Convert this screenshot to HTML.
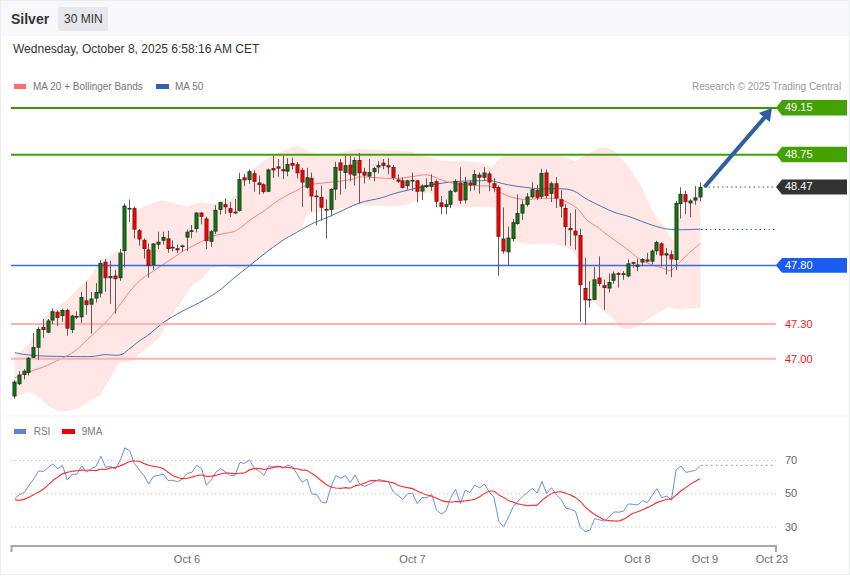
<!DOCTYPE html>
<html><head><meta charset="utf-8"><style>
*{margin:0;padding:0;box-sizing:border-box}
html,body{width:850px;height:576px;overflow:hidden;background:#fff;font-family:"Liberation Sans",sans-serif}
#frame{position:absolute;left:0;top:0;width:850px;height:575px;border:1px solid #e9edf0;}
#hdr{position:absolute;left:0;top:0;width:850px;height:36px;background:#f8f7f9}
.t{position:absolute;white-space:nowrap;line-height:1}
svg{position:absolute;left:0;top:0}
svg text{font-family:"Liberation Sans",sans-serif}
</style></head><body>
<div id="hdr"></div>
<div class="t" style="left:11px;top:12px;font-size:14px;font-weight:bold;color:#333">Silver</div>
<div style="position:absolute;left:58px;top:7px;width:50px;height:24px;background:#e6e8eb;border-radius:2px"></div>
<div class="t" style="left:64px;top:13px;font-size:12px;color:#333">30 MIN</div>
<div class="t" style="left:13px;top:43px;font-size:12px;color:#333">Wednesday, October 8, 2025 6:58:16 AM CET</div>
<div style="position:absolute;left:14px;top:84px;width:12px;height:5px;background:#ff6e6e"></div>
<div class="t" style="left:33px;top:82px;font-size:10px;color:#777">MA 20 + Bollinger Bands</div>
<div style="position:absolute;left:156px;top:84px;width:13px;height:5px;background:#2f62b0"></div>
<div class="t" style="left:175px;top:82px;font-size:10px;color:#777">MA 50</div>
<div class="t" style="left:692px;top:82px;font-size:10px;color:#999">Research © 2025 Trading Central</div>
<div style="position:absolute;left:14px;top:429px;width:12px;height:5px;background:#5b82e8"></div>
<div class="t" style="left:33.7px;top:427px;font-size:10px;color:#7a7a7a">RSI</div>
<div style="position:absolute;left:62px;top:429px;width:13px;height:5px;background:#f00000"></div>
<div class="t" style="left:81.8px;top:427px;font-size:10px;color:#7a7a7a">9MA</div>
<svg width="850" height="576" viewBox="0 0 850 576">
<path d="M14.8,354.7 L22.2,350.0 L29.2,343.0 L36.1,330.6 L43.0,319.4 L50.0,311.0 L58.3,307.0 L66.7,300.0 L75.0,291.7 L83.3,283.3 L90.0,276.9 L98.7,263.0 L107.4,257.8 L116.0,252.0 L122.6,250.0 L127.5,230.3 L132.3,219.3 L138.4,209.6 L144.5,206.6 L152.1,203.4 L160.8,200.8 L169.5,201.7 L178.2,204.3 L186.9,206.5 L193.8,204.3 L200.7,202.0 L207.7,203.4 L214.6,203.4 L221.6,200.8 L230.3,200.0 L237.0,194.0 L243.0,178.0 L253.0,169.0 L264.7,160.4 L275.2,154.3 L283.8,150.8 L290.8,147.4 L296.9,145.3 L303.0,148.2 L309.9,152.2 L320.0,154.0 L334.2,154.0 L348.1,150.8 L358.5,149.1 L377.4,150.0 L394.7,150.5 L412.1,151.7 L422.5,155.2 L429.5,156.9 L436.4,159.5 L443.4,160.4 L453.8,161.3 L464.2,160.9 L474.6,162.1 L485.0,163.9 L492.0,166.5 L497.2,161.3 L500.4,157.8 L507.4,154.3 L524.7,154.7 L542.1,154.3 L559.5,155.2 L566.4,157.8 L575.1,161.3 L583.8,156.0 L594.2,150.8 L600.0,147.8 L607.0,147.8 L613.9,150.4 L620.8,157.4 L627.8,166.0 L634.7,176.5 L641.7,186.9 L648.6,202.5 L655.6,216.4 L664.3,226.9 L671.7,238.9 L674.4,241.0 L677.9,219.4 L682.8,212.5 L689.7,201.4 L696.7,190.3 L700.4,182.6 L700.4,308.2 L692.1,308.2 L682.4,309.4 L673.9,309.0 L667.8,307.0 L658.0,313.0 L648.3,319.1 L638.6,325.2 L631.3,328.8 L621.6,328.8 L613.7,319.1 L604.0,311.8 L594.2,302.0 L587.0,290.0 L579.7,263.2 L574.8,253.5 L567.5,247.4 L552.9,243.8 L528.6,244.2 L511.6,241.3 L505.0,238.0 L499.0,215.0 L494.6,207.3 L481.6,207.0 L464.2,207.0 L446.9,206.5 L437.0,206.0 L433.6,194.5 L428.3,192.4 L423.0,193.5 L417.7,199.3 L410.3,203.5 L401.8,206.2 L385.9,206.2 L370.0,205.7 L358.9,205.7 L349.3,207.2 L337.7,208.8 L330.3,210.4 L321.8,211.5 L313.3,213.0 L307.0,214.7 L304.0,222.0 L300.6,231.0 L297.7,230.0 L287.3,236.9 L275.1,245.6 L263.0,256.0 L250.8,265.6 L240.4,269.0 L224.7,266.4 L210.8,268.2 L200.4,280.3 L196.0,282.6 L190.8,287.0 L182.1,300.8 L173.4,313.0 L164.7,326.9 L159.5,337.3 L150.8,345.1 L140.4,353.0 L132.0,361.0 L126.8,362.5 L119.9,361.7 L114.6,370.4 L107.7,382.5 L100.7,394.7 L90.3,400.8 L81.6,406.9 L73.0,410.3 L62.5,411.2 L55.6,410.0 L48.6,406.0 L41.7,399.9 L34.7,393.8 L27.8,391.6 L20.8,394.7 L14.8,397.8 Z" fill="#ffe7e6"/>
<path d="M14.8,352.7 C16.7,353.0 21.2,354.1 26.0,354.7 C30.8,355.2 36.1,355.7 43.4,356.0 C50.6,356.3 61.4,356.4 69.5,356.5 C77.6,356.6 86.2,356.8 92.0,356.5 C97.8,356.2 99.5,354.9 104.2,354.7 C108.9,354.4 115.9,355.9 119.9,355.0 C124.0,354.1 125.2,351.9 128.5,349.5 C131.8,347.1 136.8,342.8 140.0,340.5 C143.2,338.2 143.3,338.7 147.4,335.6 C151.5,332.5 158.9,325.8 164.7,321.7 C170.5,317.6 176.3,314.5 182.1,311.3 C187.9,308.1 193.7,305.8 199.5,302.6 C205.3,299.4 211.2,296.2 216.9,292.2 C222.6,288.2 227.8,283.2 233.4,278.6 C239.1,274.0 245.0,269.3 250.8,264.7 C256.6,260.1 262.4,255.2 268.2,250.8 C274.0,246.5 281.3,241.3 285.5,238.6 C289.7,235.8 288.9,236.7 293.2,234.3 C297.5,231.9 304.7,227.4 311.2,224.2 C317.7,221.0 324.4,218.7 332.4,215.2 C340.3,211.7 351.0,206.0 358.9,203.2 C366.8,200.4 374.0,199.8 380.0,198.2 C386.0,196.6 389.3,194.9 394.7,193.4 C400.1,191.9 406.3,190.5 412.1,189.1 C417.9,187.7 423.7,186.3 429.5,185.2 C435.3,184.1 441.1,183.2 446.9,182.5 C452.7,181.8 458.4,181.5 464.2,181.2 C470.0,180.9 477.3,180.8 481.6,180.7 C485.9,180.6 485.7,179.7 490.0,180.4 C494.3,181.1 501.6,183.5 507.4,184.7 C513.2,185.8 518.9,186.6 524.7,187.3 C530.5,188.0 536.3,188.8 542.1,189.0 C547.9,189.2 554.3,188.4 559.5,188.7 C564.7,189.0 568.8,189.0 573.4,190.8 C578.0,192.6 582.7,196.9 587.3,199.5 C591.9,202.1 596.6,204.2 601.2,206.4 C605.8,208.6 610.2,210.8 615.0,212.5 C619.8,214.2 623.8,214.8 630.0,216.9 C636.2,219.0 645.2,223.0 652.1,225.1 C659.0,227.2 663.1,228.8 671.2,229.5 C679.3,230.2 695.7,229.2 700.6,229.2" fill="none" stroke="#3664ae" stroke-width="0.9"/>
<path d="M14.8,377.8 C16.7,377.0 21.2,374.8 26.0,373.0 C30.8,371.2 37.6,369.2 43.4,366.9 C49.2,364.6 55.6,361.6 60.8,359.0 C66.0,356.4 70.3,354.5 74.7,351.3 C79.1,348.1 83.1,343.5 86.9,340.0 C90.7,336.5 93.3,334.3 97.3,330.4 C101.3,326.5 106.8,321.4 110.8,316.8 C114.8,312.2 117.8,307.5 121.3,302.9 C124.8,298.3 128.2,293.1 131.7,289.0 C135.2,284.9 138.6,281.5 142.1,278.6 C145.6,275.7 149.0,274.0 152.5,271.7 C156.0,269.4 159.4,267.0 162.9,264.7 C166.4,262.4 169.8,260.1 173.3,257.8 C176.8,255.5 178.7,253.7 183.8,250.8 C188.9,247.9 198.5,243.0 203.9,240.4 C209.3,237.8 211.1,236.6 216.0,235.2 C220.9,233.8 229.1,233.1 233.4,231.7 C237.8,230.2 239.2,228.5 242.1,226.5 C245.0,224.5 247.3,222.0 250.8,219.5 C254.3,217.0 258.6,214.7 263.0,211.7 C267.4,208.7 272.6,204.2 276.9,201.3 C281.2,198.4 285.5,196.2 289.0,194.3 C292.5,192.4 294.7,191.5 297.7,190.0 C300.7,188.5 301.9,186.4 306.9,185.2 C311.9,183.9 321.7,183.2 327.7,182.5 C333.7,181.8 338.7,181.4 343.0,180.8 C347.3,180.2 350.6,179.8 353.4,179.1 C356.2,178.4 356.0,177.1 360.0,176.9 C364.0,176.7 371.6,177.5 377.4,177.8 C383.2,178.1 388.9,178.8 394.7,178.6 C400.5,178.4 406.9,177.2 412.1,176.6 C417.3,176.0 421.9,174.6 426.0,174.8 C430.1,175.0 432.9,176.6 436.4,177.8 C439.9,179.0 443.4,180.8 446.9,181.8 C450.4,182.8 453.8,183.2 457.3,183.8 C460.8,184.4 463.6,184.8 467.7,185.2 C471.8,185.5 477.9,185.7 481.6,185.9 C485.3,186.1 486.9,185.4 490.0,186.5 C493.1,187.6 496.9,190.8 500.4,192.5 C503.9,194.2 506.8,195.7 510.8,196.9 C514.9,198.1 519.5,199.3 524.7,199.5 C529.9,199.7 536.9,198.5 542.1,198.3 C547.3,198.2 552.5,198.3 556.0,198.6 C559.5,198.9 559.5,198.7 563.0,200.3 C566.5,201.9 572.9,204.9 576.9,208.2 C580.9,211.5 583.8,217.1 587.3,220.3 C590.8,223.5 594.8,225.2 597.7,227.3 C600.6,229.4 601.8,230.7 604.6,232.8 C607.4,234.9 610.6,237.5 614.3,240.1 C617.9,242.7 622.5,245.6 626.5,248.6 C630.5,251.6 634.6,255.7 638.6,258.3 C642.6,260.9 646.8,262.8 650.8,264.4 C654.8,266.0 659.7,267.1 662.9,268.1 C666.1,269.1 668.0,270.9 670.2,270.5 C672.4,270.1 673.5,268.2 676.3,265.6 C679.1,263.0 683.2,258.4 687.2,254.7 C691.2,251.0 698.4,245.2 700.6,243.3" fill="none" stroke="#ff8080" stroke-width="1"/>
<line x1="11" y1="108" x2="780" y2="108" stroke="#379b00" stroke-width="2"/>
<line x1="11" y1="154.7" x2="780" y2="154.7" stroke="#42a000" stroke-width="2"/>
<line x1="11" y1="265.5" x2="780" y2="265.5" stroke="#2c6cf0" stroke-width="1.3"/>
<line x1="11" y1="324" x2="776" y2="324" stroke="#ffb0b0" stroke-width="2"/>
<line x1="11" y1="358.75" x2="776" y2="358.75" stroke="#ffb0b0" stroke-width="2"/>
<line x1="704" y1="187" x2="776" y2="187" stroke="#555" stroke-width="1" stroke-dasharray="1.5,3"/>
<line x1="701" y1="229.5" x2="776" y2="229.5" stroke="#3a64a8" stroke-width="1" stroke-dasharray="1.5,3"/>
<path d="M776,107.8 L782,100 L847,100 L847,115.6 L782,115.6 Z" fill="#44a200"/>
<text x="785" y="111.2" fill="#fff" font-size="11">49.15</text>
<path d="M776,154.55 L782,146.8 L847,146.8 L847,162.3 L782,162.3 Z" fill="#44a200"/>
<text x="785" y="157.95000000000002" fill="#fff" font-size="11">48.75</text>
<path d="M776,187.0 L782,179.5 L847,179.5 L847,194.5 L782,194.5 Z" fill="#333333"/>
<text x="785" y="190.4" fill="#fff" font-size="11">48.47</text>
<path d="M776,265.35 L782,257.9 L847,257.9 L847,272.8 L782,272.8 Z" fill="#1a5cf0"/>
<text x="785" y="268.75" fill="#fff" font-size="11">47.80</text>
<text x="785" y="328" fill="#f01818" font-size="11">47.30</text>
<text x="785" y="362.75" fill="#f01818" font-size="11">47.00</text>
<line x1="14.5" y1="380.2" x2="14.5" y2="398.6" stroke="#655858" stroke-width="1.05"/>
<rect x="12.95" y="382.05" width="3.1" height="13.90" fill="#0a7d0a" stroke="#253525" stroke-width="0.9"/>
<line x1="19.5" y1="371" x2="19.5" y2="385" stroke="#655858" stroke-width="1.05"/>
<rect x="17.95" y="375.05" width="3.1" height="8.70" fill="#0a7d0a" stroke="#253525" stroke-width="0.9"/>
<line x1="24.5" y1="369.4" x2="24.5" y2="379.5" stroke="#655858" stroke-width="1.05"/>
<rect x="22.95" y="371.25" width="3.1" height="3.30" fill="#0a7d0a" stroke="#253525" stroke-width="0.9"/>
<line x1="28.5" y1="357" x2="28.5" y2="375.5" stroke="#655858" stroke-width="1.05"/>
<rect x="26.95" y="358.25" width="3.1" height="14.20" fill="#0a7d0a" stroke="#253525" stroke-width="0.9"/>
<line x1="33.5" y1="333" x2="33.5" y2="358" stroke="#655858" stroke-width="1.05"/>
<rect x="31.95" y="347.45" width="3.1" height="9.90" fill="#0a7d0a" stroke="#253525" stroke-width="0.9"/>
<line x1="38.5" y1="327" x2="38.5" y2="360" stroke="#655858" stroke-width="1.05"/>
<rect x="36.95" y="329.45" width="3.1" height="17.80" fill="#0a7d0a" stroke="#253525" stroke-width="0.9"/>
<line x1="43.5" y1="319" x2="43.5" y2="337.8" stroke="#655858" stroke-width="1.05"/>
<rect x="41.95" y="327.45" width="3.1" height="2.10" fill="#ff0000" stroke="#7a1515" stroke-width="0.9"/>
<line x1="48.5" y1="319" x2="48.5" y2="333" stroke="#655858" stroke-width="1.05"/>
<rect x="46.95" y="320.95" width="3.1" height="11.20" fill="#0a7d0a" stroke="#253525" stroke-width="0.9"/>
<line x1="52.5" y1="308.7" x2="52.5" y2="324.3" stroke="#655858" stroke-width="1.05"/>
<rect x="50.95" y="311.75" width="3.1" height="8.30" fill="#0a7d0a" stroke="#253525" stroke-width="0.9"/>
<line x1="57.5" y1="310.4" x2="57.5" y2="326" stroke="#655858" stroke-width="1.05"/>
<rect x="55.95" y="312.25" width="3.1" height="5.20" fill="#ff0000" stroke="#7a1515" stroke-width="0.9"/>
<line x1="62.5" y1="308.7" x2="62.5" y2="321.7" stroke="#655858" stroke-width="1.05"/>
<rect x="60.95" y="310.45" width="3.1" height="5.10" fill="#0a7d0a" stroke="#253525" stroke-width="0.9"/>
<line x1="67.5" y1="308.7" x2="67.5" y2="335.6" stroke="#655858" stroke-width="1.05"/>
<rect x="65.95" y="310.45" width="3.1" height="17.70" fill="#ff0000" stroke="#7a1515" stroke-width="0.9"/>
<line x1="72.5" y1="314.8" x2="72.5" y2="333" stroke="#655858" stroke-width="1.05"/>
<rect x="70.95" y="316.05" width="3.1" height="13.40" fill="#0a7d0a" stroke="#253525" stroke-width="0.9"/>
<line x1="76.5" y1="311.3" x2="76.5" y2="319" stroke="#655858" stroke-width="1.05"/>
<rect x="74.95" y="316.45" width="3.1" height="0.70" fill="#0a7d0a" stroke="#253525" stroke-width="0.9"/>
<line x1="81.5" y1="292" x2="81.5" y2="323" stroke="#655858" stroke-width="1.05"/>
<rect x="79.95" y="297.45" width="3.1" height="19.40" fill="#0a7d0a" stroke="#253525" stroke-width="0.9"/>
<line x1="86.5" y1="281.7" x2="86.5" y2="314.7" stroke="#655858" stroke-width="1.05"/>
<rect x="84.95" y="300.84999999999997" width="3.1" height="3.80" fill="#ff0000" stroke="#7a1515" stroke-width="0.9"/>
<line x1="91.5" y1="292" x2="91.5" y2="333.75" stroke="#655858" stroke-width="1.05"/>
<rect x="89.95" y="298.95" width="3.1" height="5.20" fill="#0a7d0a" stroke="#253525" stroke-width="0.9"/>
<line x1="96.5" y1="283" x2="96.5" y2="302.5" stroke="#655858" stroke-width="1.05"/>
<rect x="94.95" y="292.45" width="3.1" height="5.60" fill="#0a7d0a" stroke="#253525" stroke-width="0.9"/>
<line x1="100.5" y1="260" x2="100.5" y2="297.3" stroke="#655858" stroke-width="1.05"/>
<rect x="98.95" y="263.34999999999997" width="3.1" height="29.70" fill="#0a7d0a" stroke="#253525" stroke-width="0.9"/>
<line x1="105.5" y1="258.75" x2="105.5" y2="291.7" stroke="#655858" stroke-width="1.05"/>
<rect x="103.95" y="262.15" width="3.1" height="15.60" fill="#ff0000" stroke="#7a1515" stroke-width="0.9"/>
<line x1="110.5" y1="260.8" x2="110.5" y2="303.9" stroke="#655858" stroke-width="1.05"/>
<rect x="108.95" y="276.45" width="3.1" height="1.30" fill="#0a7d0a" stroke="#253525" stroke-width="0.9"/>
<line x1="115.5" y1="269.9" x2="115.5" y2="313.8" stroke="#655858" stroke-width="1.05"/>
<rect x="113.95" y="276.05" width="3.1" height="2.70" fill="#ff0000" stroke="#7a1515" stroke-width="0.9"/>
<line x1="120.5" y1="249" x2="120.5" y2="280.8" stroke="#655858" stroke-width="1.05"/>
<rect x="118.95" y="253.14999999999998" width="3.1" height="24.60" fill="#0a7d0a" stroke="#253525" stroke-width="0.9"/>
<line x1="124.5" y1="203.5" x2="124.5" y2="267.3" stroke="#655858" stroke-width="1.05"/>
<rect x="122.95" y="206.04999999999998" width="3.1" height="44.60" fill="#0a7d0a" stroke="#253525" stroke-width="0.9"/>
<line x1="129.5" y1="199.5" x2="129.5" y2="222.1" stroke="#655858" stroke-width="1.05"/>
<rect x="127.95" y="208.35" width="3.1" height="0.70" fill="#0a7d0a" stroke="#253525" stroke-width="0.9"/>
<line x1="134.5" y1="206.5" x2="134.5" y2="238.6" stroke="#655858" stroke-width="1.05"/>
<rect x="132.95" y="208.64999999999998" width="3.1" height="20.50" fill="#ff0000" stroke="#7a1515" stroke-width="0.9"/>
<line x1="139.5" y1="229" x2="139.5" y2="245.6" stroke="#655858" stroke-width="1.05"/>
<rect x="137.95" y="230.75" width="3.1" height="8.30" fill="#ff0000" stroke="#7a1515" stroke-width="0.9"/>
<line x1="144.5" y1="238.3" x2="144.5" y2="258.6" stroke="#655858" stroke-width="1.05"/>
<rect x="142.95" y="240.25" width="3.1" height="8.30" fill="#ff0000" stroke="#7a1515" stroke-width="0.9"/>
<line x1="148.5" y1="243.5" x2="148.5" y2="277.7" stroke="#655858" stroke-width="1.05"/>
<rect x="146.95" y="249.95" width="3.1" height="15.50" fill="#ff0000" stroke="#7a1515" stroke-width="0.9"/>
<line x1="153.5" y1="243" x2="153.5" y2="269.9" stroke="#655858" stroke-width="1.05"/>
<rect x="151.95" y="243.95" width="3.1" height="20.60" fill="#0a7d0a" stroke="#253525" stroke-width="0.9"/>
<line x1="158.5" y1="231.7" x2="158.5" y2="249" stroke="#655858" stroke-width="1.05"/>
<rect x="156.95" y="242.14999999999998" width="3.1" height="2.10" fill="#0a7d0a" stroke="#253525" stroke-width="0.9"/>
<line x1="163.5" y1="231.7" x2="163.5" y2="244.7" stroke="#655858" stroke-width="1.05"/>
<rect x="161.95" y="237.35" width="3.1" height="2.90" fill="#0a7d0a" stroke="#253525" stroke-width="0.9"/>
<line x1="168.5" y1="230.8" x2="168.5" y2="252.7" stroke="#655858" stroke-width="1.05"/>
<rect x="166.95" y="238.85" width="3.1" height="9.70" fill="#ff0000" stroke="#7a1515" stroke-width="0.9"/>
<line x1="172.5" y1="240.4" x2="172.5" y2="251.5" stroke="#655858" stroke-width="1.05"/>
<rect x="170.95" y="247.25" width="3.1" height="0.70" fill="#0a7d0a" stroke="#253525" stroke-width="0.9"/>
<line x1="177.5" y1="244.6" x2="177.5" y2="252.9" stroke="#655858" stroke-width="1.05"/>
<rect x="175.95" y="248.64999999999998" width="3.1" height="1.20" fill="#ff0000" stroke="#7a1515" stroke-width="0.9"/>
<line x1="182.5" y1="244.6" x2="182.5" y2="251.5" stroke="#655858" stroke-width="1.05"/>
<rect x="180.95" y="245.95" width="3.1" height="0.70" fill="#0a7d0a" stroke="#253525" stroke-width="0.9"/>
<line x1="187.5" y1="229.5" x2="187.5" y2="251.2" stroke="#655858" stroke-width="1.05"/>
<rect x="185.95" y="232.14999999999998" width="3.1" height="5.00" fill="#0a7d0a" stroke="#253525" stroke-width="0.9"/>
<line x1="191.5" y1="225.1" x2="191.5" y2="238.2" stroke="#655858" stroke-width="1.05"/>
<rect x="189.95" y="230.75" width="3.1" height="0.70" fill="#0a7d0a" stroke="#253525" stroke-width="0.9"/>
<line x1="196.5" y1="212.1" x2="196.5" y2="232.4" stroke="#655858" stroke-width="1.05"/>
<rect x="194.95" y="213.04999999999998" width="3.1" height="15.50" fill="#0a7d0a" stroke="#253525" stroke-width="0.9"/>
<line x1="201.5" y1="212.1" x2="201.5" y2="224.3" stroke="#655858" stroke-width="1.05"/>
<rect x="199.95" y="213.04999999999998" width="3.1" height="3.30" fill="#ff0000" stroke="#7a1515" stroke-width="0.9"/>
<line x1="206.5" y1="216.5" x2="206.5" y2="249.1" stroke="#655858" stroke-width="1.05"/>
<rect x="204.95" y="218.95" width="3.1" height="21.70" fill="#ff0000" stroke="#7a1515" stroke-width="0.9"/>
<line x1="211.5" y1="230.2" x2="211.5" y2="246.9" stroke="#655858" stroke-width="1.05"/>
<rect x="209.95" y="231.75" width="3.1" height="9.50" fill="#0a7d0a" stroke="#253525" stroke-width="0.9"/>
<line x1="215.5" y1="205.2" x2="215.5" y2="234.2" stroke="#655858" stroke-width="1.05"/>
<rect x="213.95" y="210.35" width="3.1" height="20.80" fill="#0a7d0a" stroke="#253525" stroke-width="0.9"/>
<line x1="220.5" y1="201.7" x2="220.5" y2="214.6" stroke="#655858" stroke-width="1.05"/>
<rect x="218.95" y="202.54999999999998" width="3.1" height="6.90" fill="#0a7d0a" stroke="#253525" stroke-width="0.9"/>
<line x1="225.5" y1="198.3" x2="225.5" y2="213.9" stroke="#655858" stroke-width="1.05"/>
<rect x="223.95" y="204.64999999999998" width="3.1" height="2.20" fill="#ff0000" stroke="#7a1515" stroke-width="0.9"/>
<line x1="230.5" y1="202.1" x2="230.5" y2="216.8" stroke="#655858" stroke-width="1.05"/>
<rect x="228.95" y="208.64999999999998" width="3.1" height="3.70" fill="#ff0000" stroke="#7a1515" stroke-width="0.9"/>
<line x1="235.5" y1="199" x2="235.5" y2="213.9" stroke="#655858" stroke-width="1.05"/>
<rect x="233.95" y="212.04999999999998" width="3.1" height="0.90" fill="#0a7d0a" stroke="#253525" stroke-width="0.9"/>
<line x1="239.5" y1="172.9" x2="239.5" y2="211.6" stroke="#655858" stroke-width="1.05"/>
<rect x="237.95" y="179.64999999999998" width="3.1" height="30.70" fill="#0a7d0a" stroke="#253525" stroke-width="0.9"/>
<line x1="244.5" y1="174" x2="244.5" y2="186.1" stroke="#655858" stroke-width="1.05"/>
<rect x="242.95" y="177.85" width="3.1" height="2.10" fill="#ff0000" stroke="#7a1515" stroke-width="0.9"/>
<line x1="249.5" y1="169.4" x2="249.5" y2="183.9" stroke="#655858" stroke-width="1.05"/>
<rect x="247.95" y="171.64999999999998" width="3.1" height="7.80" fill="#0a7d0a" stroke="#253525" stroke-width="0.9"/>
<line x1="254.5" y1="170.2" x2="254.5" y2="191.7" stroke="#655858" stroke-width="1.05"/>
<rect x="252.95" y="173.75" width="3.1" height="7.50" fill="#ff0000" stroke="#7a1515" stroke-width="0.9"/>
<line x1="259.5" y1="175.6" x2="259.5" y2="194.7" stroke="#655858" stroke-width="1.05"/>
<rect x="257.95" y="182.95" width="3.1" height="1.70" fill="#ff0000" stroke="#7a1515" stroke-width="0.9"/>
<line x1="263.5" y1="183.4" x2="263.5" y2="193.8" stroke="#655858" stroke-width="1.05"/>
<rect x="261.95" y="184.75" width="3.1" height="6.90" fill="#ff0000" stroke="#7a1515" stroke-width="0.9"/>
<line x1="268.5" y1="168.6" x2="268.5" y2="192.1" stroke="#655858" stroke-width="1.05"/>
<rect x="266.95" y="169.95" width="3.1" height="21.30" fill="#0a7d0a" stroke="#253525" stroke-width="0.9"/>
<line x1="273.5" y1="155.6" x2="273.5" y2="177.8" stroke="#655858" stroke-width="1.05"/>
<rect x="271.95" y="168.54999999999998" width="3.1" height="1.40" fill="#ff0000" stroke="#7a1515" stroke-width="0.9"/>
<line x1="278.5" y1="159.1" x2="278.5" y2="176.8" stroke="#655858" stroke-width="1.05"/>
<rect x="276.95" y="166.85" width="3.1" height="1.30" fill="#ff0000" stroke="#7a1515" stroke-width="0.9"/>
<line x1="283.5" y1="155.6" x2="283.5" y2="179.1" stroke="#655858" stroke-width="1.05"/>
<rect x="281.95" y="169.64999999999998" width="3.1" height="1.15" fill="#ff0000" stroke="#7a1515" stroke-width="0.9"/>
<line x1="287.5" y1="158.2" x2="287.5" y2="176.1" stroke="#655858" stroke-width="1.05"/>
<rect x="285.95" y="164.45" width="3.1" height="6.70" fill="#0a7d0a" stroke="#253525" stroke-width="0.9"/>
<line x1="292.5" y1="157.7" x2="292.5" y2="169.5" stroke="#655858" stroke-width="1.05"/>
<rect x="290.95" y="163.35" width="3.1" height="1.90" fill="#ff0000" stroke="#7a1515" stroke-width="0.9"/>
<line x1="297.5" y1="162" x2="297.5" y2="178.5" stroke="#655858" stroke-width="1.05"/>
<rect x="295.95" y="164.75" width="3.1" height="8.10" fill="#ff0000" stroke="#7a1515" stroke-width="0.9"/>
<line x1="302.5" y1="167.8" x2="302.5" y2="206.8" stroke="#655858" stroke-width="1.05"/>
<rect x="300.95" y="170.35" width="3.1" height="11.70" fill="#ff0000" stroke="#7a1515" stroke-width="0.9"/>
<line x1="307.5" y1="167.8" x2="307.5" y2="188.6" stroke="#655858" stroke-width="1.05"/>
<rect x="305.95" y="177.75" width="3.1" height="9.50" fill="#0a7d0a" stroke="#253525" stroke-width="0.9"/>
<line x1="311.5" y1="172.6" x2="311.5" y2="211.5" stroke="#655858" stroke-width="1.05"/>
<rect x="309.95" y="178.25" width="3.1" height="17.70" fill="#ff0000" stroke="#7a1515" stroke-width="0.9"/>
<line x1="316.5" y1="190" x2="316.5" y2="225.4" stroke="#655858" stroke-width="1.05"/>
<rect x="314.95" y="196.04999999999998" width="3.1" height="0.70" fill="#ff0000" stroke="#7a1515" stroke-width="0.9"/>
<line x1="321.5" y1="185.5" x2="321.5" y2="220.7" stroke="#655858" stroke-width="1.05"/>
<rect x="319.95" y="197.35" width="3.1" height="9.90" fill="#ff0000" stroke="#7a1515" stroke-width="0.9"/>
<line x1="326.5" y1="199.4" x2="326.5" y2="238.6" stroke="#655858" stroke-width="1.05"/>
<rect x="324.95" y="209.35" width="3.1" height="0.70" fill="#0a7d0a" stroke="#253525" stroke-width="0.9"/>
<line x1="331.5" y1="188.3" x2="331.5" y2="216.4" stroke="#655858" stroke-width="1.05"/>
<rect x="329.95" y="189.45" width="3.1" height="19.90" fill="#0a7d0a" stroke="#253525" stroke-width="0.9"/>
<line x1="335.5" y1="161.7" x2="335.5" y2="199.9" stroke="#655858" stroke-width="1.05"/>
<rect x="333.95" y="167.35" width="3.1" height="21.70" fill="#0a7d0a" stroke="#253525" stroke-width="0.9"/>
<line x1="340.5" y1="159.2" x2="340.5" y2="194.7" stroke="#655858" stroke-width="1.05"/>
<rect x="338.95" y="162.85" width="3.1" height="7.30" fill="#ff0000" stroke="#7a1515" stroke-width="0.9"/>
<line x1="345.5" y1="155.6" x2="345.5" y2="189" stroke="#655858" stroke-width="1.05"/>
<rect x="343.95" y="165.64999999999998" width="3.1" height="6.90" fill="#0a7d0a" stroke="#253525" stroke-width="0.9"/>
<line x1="350.5" y1="156" x2="350.5" y2="181.3" stroke="#655858" stroke-width="1.05"/>
<rect x="348.95" y="165.14999999999998" width="3.1" height="8.80" fill="#ff0000" stroke="#7a1515" stroke-width="0.9"/>
<line x1="354.5" y1="157.4" x2="354.5" y2="185.5" stroke="#655858" stroke-width="1.05"/>
<rect x="352.95" y="160.45" width="3.1" height="14.70" fill="#0a7d0a" stroke="#253525" stroke-width="0.9"/>
<line x1="359.5" y1="153" x2="359.5" y2="203.4" stroke="#655858" stroke-width="1.05"/>
<rect x="357.95" y="160.45" width="3.1" height="12.40" fill="#ff0000" stroke="#7a1515" stroke-width="0.9"/>
<line x1="364.5" y1="167.8" x2="364.5" y2="183.4" stroke="#655858" stroke-width="1.05"/>
<rect x="362.95" y="172.04999999999998" width="3.1" height="3.10" fill="#ff0000" stroke="#7a1515" stroke-width="0.9"/>
<line x1="369.5" y1="159.1" x2="369.5" y2="179.6" stroke="#655858" stroke-width="1.05"/>
<rect x="367.95" y="172.54999999999998" width="3.1" height="3.50" fill="#0a7d0a" stroke="#253525" stroke-width="0.9"/>
<line x1="374.5" y1="166.9" x2="374.5" y2="181.3" stroke="#655858" stroke-width="1.05"/>
<rect x="372.95" y="168.54999999999998" width="3.1" height="3.10" fill="#0a7d0a" stroke="#253525" stroke-width="0.9"/>
<line x1="378.5" y1="161.2" x2="378.5" y2="173.3" stroke="#655858" stroke-width="1.05"/>
<rect x="376.95" y="165.64999999999998" width="3.1" height="1.30" fill="#0a7d0a" stroke="#253525" stroke-width="0.9"/>
<line x1="383.5" y1="159" x2="383.5" y2="169.3" stroke="#655858" stroke-width="1.05"/>
<rect x="381.95" y="163.14999999999998" width="3.1" height="2.40" fill="#ff0000" stroke="#7a1515" stroke-width="0.9"/>
<line x1="388.5" y1="158.3" x2="388.5" y2="174.3" stroke="#655858" stroke-width="1.05"/>
<rect x="386.95" y="165.75" width="3.1" height="1.20" fill="#ff0000" stroke="#7a1515" stroke-width="0.9"/>
<line x1="393.5" y1="164.8" x2="393.5" y2="179.9" stroke="#655858" stroke-width="1.05"/>
<rect x="391.95" y="167.45" width="3.1" height="9.90" fill="#ff0000" stroke="#7a1515" stroke-width="0.9"/>
<line x1="398.5" y1="174.3" x2="398.5" y2="183" stroke="#655858" stroke-width="1.05"/>
<rect x="396.95" y="179.95" width="3.1" height="1.20" fill="#ff0000" stroke="#7a1515" stroke-width="0.9"/>
<line x1="402.5" y1="177.4" x2="402.5" y2="188.5" stroke="#655858" stroke-width="1.05"/>
<rect x="400.95" y="180.85" width="3.1" height="6.50" fill="#ff0000" stroke="#7a1515" stroke-width="0.9"/>
<line x1="407.5" y1="179.9" x2="407.5" y2="189.6" stroke="#655858" stroke-width="1.05"/>
<rect x="405.95" y="180.85" width="3.1" height="4.80" fill="#0a7d0a" stroke="#253525" stroke-width="0.9"/>
<line x1="412.5" y1="172.6" x2="412.5" y2="190.8" stroke="#655858" stroke-width="1.05"/>
<rect x="410.95" y="180.35" width="3.1" height="0.70" fill="#0a7d0a" stroke="#253525" stroke-width="0.9"/>
<line x1="417.5" y1="179.9" x2="417.5" y2="202.4" stroke="#655858" stroke-width="1.05"/>
<rect x="415.95" y="180.85" width="3.1" height="10.40" fill="#ff0000" stroke="#7a1515" stroke-width="0.9"/>
<line x1="422.5" y1="184.4" x2="422.5" y2="200" stroke="#655858" stroke-width="1.05"/>
<rect x="420.95" y="186.04999999999998" width="3.1" height="5.00" fill="#0a7d0a" stroke="#253525" stroke-width="0.9"/>
<line x1="426.5" y1="178.3" x2="426.5" y2="188" stroke="#655858" stroke-width="1.05"/>
<rect x="424.95" y="185.45" width="3.1" height="1.10" fill="#0a7d0a" stroke="#253525" stroke-width="0.9"/>
<line x1="431.5" y1="174.3" x2="431.5" y2="190.8" stroke="#655858" stroke-width="1.05"/>
<rect x="429.95" y="182.54999999999998" width="3.1" height="3.80" fill="#0a7d0a" stroke="#253525" stroke-width="0.9"/>
<line x1="436.5" y1="179.5" x2="436.5" y2="207" stroke="#655858" stroke-width="1.05"/>
<rect x="434.95" y="181.7" width="3.1" height="19.55" fill="#ff0000" stroke="#7a1515" stroke-width="0.9"/>
<line x1="441.5" y1="196" x2="441.5" y2="214.2" stroke="#655858" stroke-width="1.05"/>
<rect x="439.95" y="202.85" width="3.1" height="3.60" fill="#ff0000" stroke="#7a1515" stroke-width="0.9"/>
<line x1="446.5" y1="199.5" x2="446.5" y2="214.2" stroke="#655858" stroke-width="1.05"/>
<rect x="444.95" y="204.64999999999998" width="3.1" height="1.80" fill="#0a7d0a" stroke="#253525" stroke-width="0.9"/>
<line x1="450.5" y1="189.9" x2="450.5" y2="208.2" stroke="#655858" stroke-width="1.05"/>
<rect x="448.95" y="191.25" width="3.1" height="13.00" fill="#0a7d0a" stroke="#253525" stroke-width="0.9"/>
<line x1="455.5" y1="179.2" x2="455.5" y2="192.5" stroke="#655858" stroke-width="1.05"/>
<rect x="453.95" y="181.35" width="3.1" height="9.90" fill="#0a7d0a" stroke="#253525" stroke-width="0.9"/>
<line x1="460.5" y1="167.4" x2="460.5" y2="203.8" stroke="#655858" stroke-width="1.05"/>
<rect x="458.95" y="183.04999999999998" width="3.1" height="17.20" fill="#ff0000" stroke="#7a1515" stroke-width="0.9"/>
<line x1="465.5" y1="176.8" x2="465.5" y2="203.4" stroke="#655858" stroke-width="1.05"/>
<rect x="463.95" y="182.45" width="3.1" height="17.40" fill="#0a7d0a" stroke="#253525" stroke-width="0.9"/>
<line x1="470.5" y1="179.8" x2="470.5" y2="191.25" stroke="#655858" stroke-width="1.05"/>
<rect x="468.95" y="182.95" width="3.1" height="2.00" fill="#ff0000" stroke="#7a1515" stroke-width="0.9"/>
<line x1="474.5" y1="170" x2="474.5" y2="190.2" stroke="#655858" stroke-width="1.05"/>
<rect x="472.95" y="174.64999999999998" width="3.1" height="9.90" fill="#0a7d0a" stroke="#253525" stroke-width="0.9"/>
<line x1="479.5" y1="172.5" x2="479.5" y2="193.75" stroke="#655858" stroke-width="1.05"/>
<rect x="477.95" y="175.04999999999998" width="3.1" height="2.20" fill="#ff0000" stroke="#7a1515" stroke-width="0.9"/>
<line x1="484.5" y1="167.3" x2="484.5" y2="180.8" stroke="#655858" stroke-width="1.05"/>
<rect x="482.95" y="172.95" width="3.1" height="4.30" fill="#0a7d0a" stroke="#253525" stroke-width="0.9"/>
<line x1="489.5" y1="171.5" x2="489.5" y2="191.25" stroke="#655858" stroke-width="1.05"/>
<rect x="487.95" y="173.95" width="3.1" height="8.10" fill="#ff0000" stroke="#7a1515" stroke-width="0.9"/>
<line x1="494.5" y1="178.3" x2="494.5" y2="192.3" stroke="#655858" stroke-width="1.05"/>
<rect x="492.95" y="183.75" width="3.1" height="3.90" fill="#ff0000" stroke="#7a1515" stroke-width="0.9"/>
<line x1="498.5" y1="185.4" x2="498.5" y2="275.6" stroke="#655858" stroke-width="1.05"/>
<rect x="496.95" y="187.54999999999998" width="3.1" height="48.70" fill="#ff0000" stroke="#7a1515" stroke-width="0.9"/>
<line x1="503.5" y1="207.5" x2="503.5" y2="253.75" stroke="#655858" stroke-width="1.05"/>
<rect x="501.95" y="239.04999999999998" width="3.1" height="11.90" fill="#ff0000" stroke="#7a1515" stroke-width="0.9"/>
<line x1="508.5" y1="226.7" x2="508.5" y2="265.2" stroke="#655858" stroke-width="1.05"/>
<rect x="506.95" y="238.04999999999998" width="3.1" height="13.80" fill="#0a7d0a" stroke="#253525" stroke-width="0.9"/>
<line x1="513.5" y1="219" x2="513.5" y2="241.6" stroke="#655858" stroke-width="1.05"/>
<rect x="511.95" y="222.64999999999998" width="3.1" height="15.90" fill="#0a7d0a" stroke="#253525" stroke-width="0.9"/>
<line x1="517.5" y1="194.4" x2="517.5" y2="224.6" stroke="#655858" stroke-width="1.05"/>
<rect x="515.95" y="213.45" width="3.1" height="10.00" fill="#0a7d0a" stroke="#253525" stroke-width="0.9"/>
<line x1="522.5" y1="200.3" x2="522.5" y2="219.9" stroke="#655858" stroke-width="1.05"/>
<rect x="520.95" y="204.75" width="3.1" height="8.30" fill="#0a7d0a" stroke="#253525" stroke-width="0.9"/>
<line x1="527.5" y1="193" x2="527.5" y2="206.5" stroke="#655858" stroke-width="1.05"/>
<rect x="525.95" y="196.95" width="3.1" height="7.40" fill="#0a7d0a" stroke="#253525" stroke-width="0.9"/>
<line x1="532.5" y1="182.2" x2="532.5" y2="198.2" stroke="#655858" stroke-width="1.05"/>
<rect x="530.95" y="189.64999999999998" width="3.1" height="7.20" fill="#0a7d0a" stroke="#253525" stroke-width="0.9"/>
<line x1="537.5" y1="185.2" x2="537.5" y2="199.9" stroke="#655858" stroke-width="1.05"/>
<rect x="535.95" y="190.35" width="3.1" height="7.00" fill="#ff0000" stroke="#7a1515" stroke-width="0.9"/>
<line x1="541.5" y1="168.7" x2="541.5" y2="199" stroke="#655858" stroke-width="1.05"/>
<rect x="539.95" y="173.45" width="3.1" height="22.90" fill="#0a7d0a" stroke="#253525" stroke-width="0.9"/>
<line x1="546.5" y1="169.5" x2="546.5" y2="198.2" stroke="#655858" stroke-width="1.05"/>
<rect x="544.95" y="172.95" width="3.1" height="22.60" fill="#ff0000" stroke="#7a1515" stroke-width="0.9"/>
<line x1="551.5" y1="181.6" x2="551.5" y2="202" stroke="#655858" stroke-width="1.05"/>
<rect x="549.95" y="183.75" width="3.1" height="9.60" fill="#0a7d0a" stroke="#253525" stroke-width="0.9"/>
<line x1="556.5" y1="177.1" x2="556.5" y2="208" stroke="#655858" stroke-width="1.05"/>
<rect x="554.95" y="183.75" width="3.1" height="14.20" fill="#ff0000" stroke="#7a1515" stroke-width="0.9"/>
<line x1="561.5" y1="190.3" x2="561.5" y2="217.5" stroke="#655858" stroke-width="1.05"/>
<rect x="559.95" y="199.75" width="3.1" height="6.40" fill="#ff0000" stroke="#7a1515" stroke-width="0.9"/>
<line x1="565.5" y1="204.2" x2="565.5" y2="245.3" stroke="#655858" stroke-width="1.05"/>
<rect x="563.95" y="208.45" width="3.1" height="18.20" fill="#ff0000" stroke="#7a1515" stroke-width="0.9"/>
<line x1="570.5" y1="212.9" x2="570.5" y2="245.9" stroke="#655858" stroke-width="1.05"/>
<rect x="568.95" y="228.45" width="3.1" height="1.30" fill="#ff0000" stroke="#7a1515" stroke-width="0.9"/>
<line x1="575.5" y1="209.4" x2="575.5" y2="249.8" stroke="#655858" stroke-width="1.05"/>
<rect x="573.95" y="231.14999999999998" width="3.1" height="3.90" fill="#ff0000" stroke="#7a1515" stroke-width="0.9"/>
<line x1="580.5" y1="228.7" x2="580.5" y2="321.7" stroke="#655858" stroke-width="1.05"/>
<rect x="578.95" y="235.45" width="3.1" height="49.30" fill="#ff0000" stroke="#7a1515" stroke-width="0.9"/>
<line x1="585.5" y1="257.8" x2="585.5" y2="325" stroke="#655858" stroke-width="1.05"/>
<rect x="583.95" y="288.45" width="3.1" height="11.30" fill="#ff0000" stroke="#7a1515" stroke-width="0.9"/>
<line x1="589.5" y1="281.2" x2="589.5" y2="307.5" stroke="#655858" stroke-width="1.05"/>
<rect x="587.95" y="299.34999999999997" width="3.1" height="0.70" fill="#0a7d0a" stroke="#253525" stroke-width="0.9"/>
<line x1="594.5" y1="267" x2="594.5" y2="300.2" stroke="#655858" stroke-width="1.05"/>
<rect x="592.95" y="279.84999999999997" width="3.1" height="19.50" fill="#0a7d0a" stroke="#253525" stroke-width="0.9"/>
<line x1="599.5" y1="256.4" x2="599.5" y2="286.1" stroke="#655858" stroke-width="1.05"/>
<rect x="597.95" y="278.05" width="3.1" height="5.30" fill="#ff0000" stroke="#7a1515" stroke-width="0.9"/>
<line x1="604.5" y1="279.7" x2="604.5" y2="309.9" stroke="#655858" stroke-width="1.05"/>
<rect x="602.95" y="285.65" width="3.1" height="1.90" fill="#ff0000" stroke="#7a1515" stroke-width="0.9"/>
<line x1="609.5" y1="273.4" x2="609.5" y2="292.5" stroke="#655858" stroke-width="1.05"/>
<rect x="607.95" y="282.45" width="3.1" height="5.60" fill="#0a7d0a" stroke="#253525" stroke-width="0.9"/>
<line x1="613.5" y1="271.5" x2="613.5" y2="283.8" stroke="#655858" stroke-width="1.05"/>
<rect x="611.95" y="274.05" width="3.1" height="6.20" fill="#0a7d0a" stroke="#253525" stroke-width="0.9"/>
<line x1="618.5" y1="272" x2="618.5" y2="287.6" stroke="#655858" stroke-width="1.05"/>
<rect x="616.95" y="273.65" width="3.1" height="0.70" fill="#ff0000" stroke="#7a1515" stroke-width="0.9"/>
<line x1="623.5" y1="271.2" x2="623.5" y2="279.9" stroke="#655858" stroke-width="1.05"/>
<rect x="621.95" y="273.75" width="3.1" height="0.70" fill="#0a7d0a" stroke="#253525" stroke-width="0.9"/>
<line x1="628.5" y1="259.4" x2="628.5" y2="277.3" stroke="#655858" stroke-width="1.05"/>
<rect x="626.95" y="263.84999999999997" width="3.1" height="12.10" fill="#0a7d0a" stroke="#253525" stroke-width="0.9"/>
<line x1="633.5" y1="261.6" x2="633.5" y2="267.7" stroke="#655858" stroke-width="1.05"/>
<rect x="631.95" y="262.65" width="3.1" height="0.70" fill="#ff0000" stroke="#7a1515" stroke-width="0.9"/>
<line x1="637.5" y1="258.7" x2="637.5" y2="271.2" stroke="#655858" stroke-width="1.05"/>
<rect x="635.95" y="265.05" width="3.1" height="1.30" fill="#0a7d0a" stroke="#253525" stroke-width="0.9"/>
<line x1="642.5" y1="258.2" x2="642.5" y2="266.3" stroke="#655858" stroke-width="1.05"/>
<rect x="640.95" y="259.45" width="3.1" height="2.60" fill="#0a7d0a" stroke="#253525" stroke-width="0.9"/>
<line x1="647.5" y1="253" x2="647.5" y2="262.2" stroke="#655858" stroke-width="1.05"/>
<rect x="645.95" y="259.84999999999997" width="3.1" height="1.30" fill="#ff0000" stroke="#7a1515" stroke-width="0.9"/>
<line x1="652.5" y1="249.5" x2="652.5" y2="264.2" stroke="#655858" stroke-width="1.05"/>
<rect x="650.95" y="251.14999999999998" width="3.1" height="10.00" fill="#0a7d0a" stroke="#253525" stroke-width="0.9"/>
<line x1="656.5" y1="240.8" x2="656.5" y2="254.9" stroke="#655858" stroke-width="1.05"/>
<rect x="654.95" y="242.54999999999998" width="3.1" height="8.20" fill="#0a7d0a" stroke="#253525" stroke-width="0.9"/>
<line x1="661.5" y1="242.2" x2="661.5" y2="266.5" stroke="#655858" stroke-width="1.05"/>
<rect x="659.95" y="243.85" width="3.1" height="11.20" fill="#ff0000" stroke="#7a1515" stroke-width="0.9"/>
<line x1="666.5" y1="248" x2="666.5" y2="274.6" stroke="#655858" stroke-width="1.05"/>
<rect x="664.95" y="253.75" width="3.1" height="1.30" fill="#0a7d0a" stroke="#253525" stroke-width="0.9"/>
<line x1="671.5" y1="250.3" x2="671.5" y2="277.2" stroke="#655858" stroke-width="1.05"/>
<rect x="669.95" y="254.75" width="3.1" height="4.30" fill="#ff0000" stroke="#7a1515" stroke-width="0.9"/>
<line x1="676.5" y1="201.2" x2="676.5" y2="269.9" stroke="#655858" stroke-width="1.05"/>
<rect x="674.95" y="203.35" width="3.1" height="56.10" fill="#0a7d0a" stroke="#253525" stroke-width="0.9"/>
<line x1="680.5" y1="187.3" x2="680.5" y2="218.5" stroke="#655858" stroke-width="1.05"/>
<rect x="678.95" y="194.35" width="3.1" height="9.20" fill="#0a7d0a" stroke="#253525" stroke-width="0.9"/>
<line x1="685.5" y1="190.8" x2="685.5" y2="213.9" stroke="#655858" stroke-width="1.05"/>
<rect x="683.95" y="194.64999999999998" width="3.1" height="7.10" fill="#ff0000" stroke="#7a1515" stroke-width="0.9"/>
<line x1="690.5" y1="199.1" x2="690.5" y2="217.3" stroke="#655858" stroke-width="1.05"/>
<rect x="688.95" y="200.95" width="3.1" height="2.00" fill="#0a7d0a" stroke="#253525" stroke-width="0.9"/>
<line x1="695.5" y1="186.1" x2="695.5" y2="204.7" stroke="#655858" stroke-width="1.05"/>
<rect x="693.95" y="197.85" width="3.1" height="2.20" fill="#0a7d0a" stroke="#253525" stroke-width="0.9"/>
<line x1="700.5" y1="182.6" x2="700.5" y2="201.2" stroke="#655858" stroke-width="1.05"/>
<rect x="698.95" y="187.45" width="3.1" height="9.50" fill="#0a7d0a" stroke="#253525" stroke-width="0.9"/>
<line x1="704.5" y1="187" x2="765" y2="117" stroke="#2e5fa0" stroke-width="4.2"/>
<path d="M772,108 L758.9,112.9 L769.8,122 Z" fill="#2e5fa0"/>
<polyline points="14.6,498.8 19.4,494.6 24.2,492.6 29.0,485.1 33.8,479.0 38.6,470.9 43.4,471.5 48.2,467.5 53.0,463.8 57.7,468.7 62.5,465.4 67.3,480.0 72.1,474.2 76.9,474.2 81.7,465.9 86.5,472.3 91.3,468.7 96.1,466.3 100.9,456.2 105.7,467.3 110.5,466.1 115.3,469.2 120.1,460.7 124.9,447.9 129.7,450.7 134.4,463.7 139.2,469.8 144.0,475.8 148.8,484.0 153.6,476.2 158.4,475.5 163.2,474.0 168.0,480.5 172.8,480.3 177.6,481.6 182.4,479.2 187.2,473.4 192.0,472.2 196.8,465.3 201.6,468.6 206.4,485.2 211.2,480.1 215.9,472.2 220.7,468.6 225.5,471.8 230.3,475.8 235.1,475.2 239.9,462.5 244.7,463.3 249.5,460.0 254.3,468.2 259.1,471.0 263.9,475.5 268.7,466.1 273.5,466.5 278.3,465.9 283.1,468.2 287.9,464.9 292.7,467.0 297.4,474.5 302.2,482.3 307.0,479.1 311.8,494.1 316.6,494.4 321.4,502.0 326.2,503.0 331.0,486.8 335.8,475.5 340.6,478.3 345.4,475.5 350.2,482.5 355.0,475.0 359.8,484.3 364.6,486.4 369.4,484.3 374.1,481.9 378.9,479.5 383.7,480.7 388.5,481.9 393.3,492.0 398.1,495.5 402.9,499.4 407.7,493.4 412.5,493.4 417.3,503.6 422.1,497.5 426.9,497.9 431.7,494.2 436.5,510.0 441.3,514.0 446.1,510.6 450.9,497.2 455.6,489.3 460.4,503.6 465.2,490.2 470.0,492.4 474.8,485.1 479.6,487.8 484.4,484.1 489.2,492.0 494.0,497.3 498.8,521.3 503.6,527.0 508.4,517.4 513.2,506.8 518.0,501.1 522.8,496.5 527.6,492.2 532.4,488.4 537.1,493.1 541.9,481.4 546.7,493.4 551.5,487.7 556.3,494.8 561.1,499.3 565.9,508.2 570.7,509.2 575.5,511.4 580.3,527.0 585.1,531.5 589.9,530.3 594.7,518.5 599.5,519.9 604.3,521.2 609.1,516.8 613.9,511.9 618.6,512.2 623.4,511.2 628.2,503.9 633.0,504.3 637.8,505.0 642.6,500.6 647.4,502.5 652.2,495.3 657.0,488.6 661.8,497.8 666.6,496.0 671.4,500.1 676.2,469.6 681.0,466.1 685.8,472.4 690.6,471.4 695.3,470.3 700.1,465.4" fill="none" stroke="#6b8de6" stroke-width="1"/>
<path d="M15.0,499.7 C15.7,499.8 17.4,500.4 18.9,500.3 C20.4,500.2 21.6,500.2 23.8,499.4 C26.0,498.6 29.1,497.1 32.3,495.4 C35.5,493.7 39.8,491.8 43.2,489.3 C46.6,486.8 50.5,482.5 53.0,480.4 C55.4,478.4 56.1,478.2 57.7,477.1 C59.3,476.0 60.9,474.6 62.5,473.8 C64.1,473.1 65.7,472.9 67.3,472.4 C68.9,472.0 70.5,471.5 72.1,471.2 C73.7,470.9 75.3,470.9 76.9,470.7 C78.5,470.5 80.1,470.2 81.7,470.1 C83.3,470.1 84.9,470.2 86.5,470.2 C88.1,470.3 89.7,470.3 91.3,470.4 C92.9,470.4 94.5,470.8 96.1,470.6 C97.7,470.4 99.3,469.4 100.9,469.2 C102.5,469.0 104.1,469.7 105.7,469.5 C107.3,469.2 108.9,468.3 110.5,467.9 C112.1,467.6 113.7,467.7 115.3,467.4 C116.9,467.0 118.5,466.4 120.1,465.9 C121.7,465.3 123.3,464.6 124.9,463.9 C126.5,463.1 128.1,461.9 129.7,461.5 C131.3,461.0 132.9,460.9 134.4,460.9 C136.0,460.9 137.6,460.9 139.2,461.3 C140.8,461.7 142.4,462.8 144.0,463.5 C145.6,464.1 147.2,464.8 148.8,465.3 C150.4,465.8 152.0,466.1 153.6,466.4 C155.2,466.7 156.8,466.8 158.4,467.1 C160.0,467.5 161.6,467.8 163.2,468.6 C164.8,469.5 166.4,471.1 168.0,472.2 C169.6,473.4 171.2,474.7 172.8,475.5 C174.4,476.4 176.0,477.0 177.6,477.5 C179.2,478.0 180.8,478.4 182.4,478.6 C184.0,478.7 185.6,478.6 187.2,478.3 C188.8,478.0 190.4,477.4 192.0,477.0 C193.6,476.6 195.2,476.1 196.8,475.8 C198.4,475.4 200.0,474.9 201.6,475.0 C203.2,475.1 204.8,476.1 206.4,476.3 C208.0,476.5 209.6,476.4 211.2,476.2 C212.8,476.1 214.3,475.7 215.9,475.3 C217.5,474.9 219.1,474.2 220.7,473.9 C222.3,473.5 223.9,473.1 225.5,473.0 C227.1,473.0 228.7,473.2 230.3,473.3 C231.9,473.4 233.5,473.6 235.1,473.6 C236.7,473.6 238.3,473.5 239.9,473.3 C241.5,473.2 243.1,473.3 244.7,472.7 C246.3,472.2 247.9,470.6 249.5,469.9 C251.1,469.3 252.7,468.9 254.3,468.6 C255.9,468.4 257.5,468.4 259.1,468.5 C260.7,468.6 262.3,469.2 263.9,469.3 C265.5,469.3 267.1,468.9 268.7,468.6 C270.3,468.3 271.9,467.9 273.5,467.6 C275.1,467.2 276.7,466.6 278.3,466.6 C279.9,466.5 281.5,467.1 283.1,467.2 C284.7,467.3 286.3,467.2 287.9,467.4 C289.5,467.5 291.1,467.9 292.7,468.1 C294.2,468.4 295.8,468.5 297.4,468.8 C299.0,469.2 300.6,469.8 302.2,470.1 C303.8,470.4 305.4,469.9 307.0,470.5 C308.6,471.1 310.2,472.6 311.8,473.6 C313.4,474.6 315.0,475.5 316.6,476.7 C318.2,477.9 319.8,479.4 321.4,480.7 C323.0,482.0 324.6,483.5 326.2,484.6 C327.8,485.6 329.4,486.5 331.0,487.0 C332.6,487.6 334.2,487.7 335.8,488.0 C337.4,488.2 339.0,488.4 340.6,488.4 C342.2,488.3 343.8,487.7 345.4,487.6 C347.0,487.6 348.6,488.3 350.2,488.0 C351.8,487.7 353.4,486.4 355.0,485.9 C356.6,485.3 358.2,485.2 359.8,484.8 C361.4,484.3 363.0,483.7 364.6,483.0 C366.2,482.4 367.8,481.4 369.4,481.0 C371.0,480.5 372.6,480.4 374.1,480.4 C375.7,480.4 377.3,480.7 378.9,480.9 C380.5,481.0 382.1,481.0 383.7,481.1 C385.3,481.3 386.9,481.5 388.5,481.8 C390.1,482.1 391.7,482.3 393.3,482.9 C394.9,483.4 396.5,484.5 398.1,485.2 C399.7,485.8 401.3,486.4 402.9,486.8 C404.5,487.3 406.1,487.3 407.7,487.6 C409.3,487.9 410.9,488.1 412.5,488.6 C414.1,489.2 415.7,490.3 417.3,491.0 C418.9,491.8 420.5,492.4 422.1,493.0 C423.7,493.7 425.3,494.4 426.9,495.0 C428.5,495.5 430.1,495.8 431.7,496.3 C433.3,496.9 434.9,497.6 436.5,498.3 C438.1,499.0 439.7,499.8 441.3,500.4 C442.9,500.9 444.5,501.3 446.1,501.6 C447.7,501.9 449.3,502.0 450.9,502.0 C452.5,502.0 454.0,501.7 455.6,501.6 C457.2,501.5 458.8,501.7 460.4,501.6 C462.0,501.5 463.6,501.0 465.2,500.8 C466.8,500.5 468.4,500.4 470.0,500.2 C471.6,499.9 473.2,499.7 474.8,499.2 C476.4,498.6 478.0,497.7 479.6,496.7 C481.2,495.7 482.8,494.3 484.4,493.4 C486.0,492.5 487.6,491.6 489.2,491.3 C490.8,491.0 492.4,490.7 494.0,491.3 C495.6,491.9 497.2,493.8 498.8,494.9 C500.4,495.9 502.0,496.5 503.6,497.5 C505.2,498.4 506.8,499.7 508.4,500.5 C510.0,501.3 511.6,501.5 513.2,502.1 C514.8,502.7 516.4,503.4 518.0,503.9 C519.6,504.3 521.2,504.5 522.8,504.8 C524.4,505.1 526.0,505.7 527.6,505.7 C529.2,505.8 530.8,505.5 532.4,505.3 C533.9,505.2 535.5,505.7 537.1,504.9 C538.7,504.1 540.3,501.8 541.9,500.4 C543.5,499.1 545.1,497.9 546.7,496.7 C548.3,495.5 549.9,494.2 551.5,493.4 C553.1,492.6 554.7,492.3 556.3,492.1 C557.9,491.8 559.5,491.7 561.1,491.9 C562.7,492.1 564.3,492.6 565.9,493.2 C567.5,493.7 569.1,494.3 570.7,495.1 C572.3,495.8 573.9,496.6 575.5,497.6 C577.1,498.7 578.7,499.8 580.3,501.4 C581.9,502.9 583.5,505.3 585.1,506.9 C586.7,508.6 588.3,509.8 589.9,511.0 C591.5,512.3 593.1,513.4 594.7,514.5 C596.3,515.5 597.9,516.4 599.5,517.3 C601.1,518.1 602.7,519.1 604.3,519.7 C605.9,520.3 607.5,520.4 609.1,520.6 C610.7,520.9 612.3,520.9 613.9,520.9 C615.4,521.0 617.0,521.3 618.6,521.0 C620.2,520.8 621.8,520.1 623.4,519.3 C625.0,518.5 626.6,517.2 628.2,516.2 C629.8,515.2 631.4,514.1 633.0,513.3 C634.6,512.6 636.2,512.4 637.8,511.8 C639.4,511.2 641.0,510.4 642.6,509.7 C644.2,509.0 645.8,508.4 647.4,507.6 C649.0,506.9 650.6,506.0 652.2,505.2 C653.8,504.4 655.4,503.3 657.0,502.6 C658.6,501.9 660.2,501.6 661.8,501.0 C663.4,500.5 665.0,499.7 666.6,499.3 C668.2,499.0 669.8,499.6 671.4,498.9 C673.0,498.2 674.6,496.4 676.2,495.1 C677.8,493.7 679.4,492.0 681.0,490.7 C682.6,489.5 684.2,488.7 685.8,487.6 C687.4,486.5 689.0,485.2 690.6,484.1 C692.2,483.1 693.8,482.3 695.3,481.4 C696.9,480.5 699.3,479.2 700.1,478.8" fill="none" stroke="#ff3030" stroke-width="1.15"/>
<line x1="11" y1="460.5" x2="776" y2="460.5" stroke="#c4c4c4" stroke-width="1.2" stroke-dasharray="1.2,2.8"/>
<text x="785" y="464.0" fill="#666" font-size="11">70</text>
<line x1="11" y1="493.75" x2="776" y2="493.75" stroke="#c4c4c4" stroke-width="1.2" stroke-dasharray="1.2,2.8"/>
<text x="785" y="497.25" fill="#666" font-size="11">50</text>
<line x1="11" y1="527" x2="776" y2="527" stroke="#c4c4c4" stroke-width="1.2" stroke-dasharray="1.2,2.8"/>
<text x="785" y="530.5" fill="#666" font-size="11">30</text>
<line x1="701" y1="465.3" x2="775" y2="465.3" stroke="#6b8de6" stroke-width="1" stroke-dasharray="1.5,3.5"/>
<path d="M11.5,552 V546 H776 V552" fill="none" stroke="#a8a8a8" stroke-width="2"/>
<text x="187" y="562.5" fill="#6e6e6e" font-size="11" text-anchor="middle">Oct 6</text>
<text x="412.5" y="562.5" fill="#6e6e6e" font-size="11" text-anchor="middle">Oct 7</text>
<text x="637.5" y="562.5" fill="#6e6e6e" font-size="11" text-anchor="middle">Oct 8</text>
<text x="705" y="562.5" fill="#6e6e6e" font-size="11" text-anchor="middle">Oct 9</text>
<text x="772" y="562.5" fill="#6e6e6e" font-size="11" text-anchor="middle">Oct 23</text>
<line x1="1" y1="416" x2="848" y2="416" stroke="#eef1f5" stroke-width="1.2"/>
</svg>
<div id="frame"></div>
</body></html>
